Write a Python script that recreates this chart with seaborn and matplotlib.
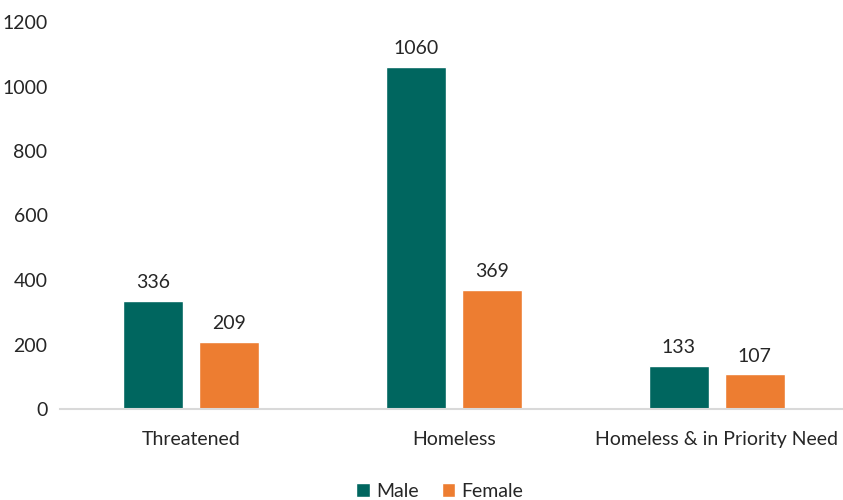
import pandas as pd
import matplotlib.pyplot as plt
import seaborn as sns

# Dados do gráfico
categorias = ["Threatened", "Homeless", "Homeless & in Priority Need"]
masculino = [336, 1060, 133]
feminino = [209, 369, 107]
generos = ["Male", "Female"]
cores = ["#00665F", "#ED7D31"]

df = pd.DataFrame({
    "categoria": categorias * 2,
    "genero": [generos[0]] * 3 + [generos[1]] * 3,
    "valor": masculino + feminino,
})

sns.set_theme(style="white")
plt.rcParams["font.family"] = ["Lato", "DejaVu Sans"]

fig = plt.figure(figsize=(8.43, 5), dpi=100)
ax = fig.add_axes([60 / 843, 0.182, 783 / 843, 0.774])

sns.barplot(
    data=df, x="categoria", y="valor", hue="genero",
    palette=cores, width=0.578, gap=0.21, ax=ax, saturation=1,
)

for cont in ax.containers:
    ax.bar_label(cont, padding=7, fontsize=14, color="#262626")

ax.set_xlim(-0.5, 2.48)
ax.set_ylim(0, 1200)
ax.set_yticks(range(0, 1201, 200))
ax.set_xlabel("")
ax.set_ylabel("")
ax.tick_params(axis="both", length=0, labelsize=14, colors="#262626")
ax.tick_params(axis="y", pad=9)
ax.tick_params(axis="x", pad=16)

sns.despine(ax=ax, left=True)
ax.spines["bottom"].set_color("#D9D9D9")
ax.spines["bottom"].set_linewidth(1.5)

ax.legend(
    loc="lower center", bbox_to_anchor=(0.5 - 0.015, -0.28), ncol=2,
    frameon=False, fontsize=14, handlelength=0.7, handleheight=0.7,
    handletextpad=0.3, columnspacing=1.2,
)

plt.savefig("out.png", dpi=100)
